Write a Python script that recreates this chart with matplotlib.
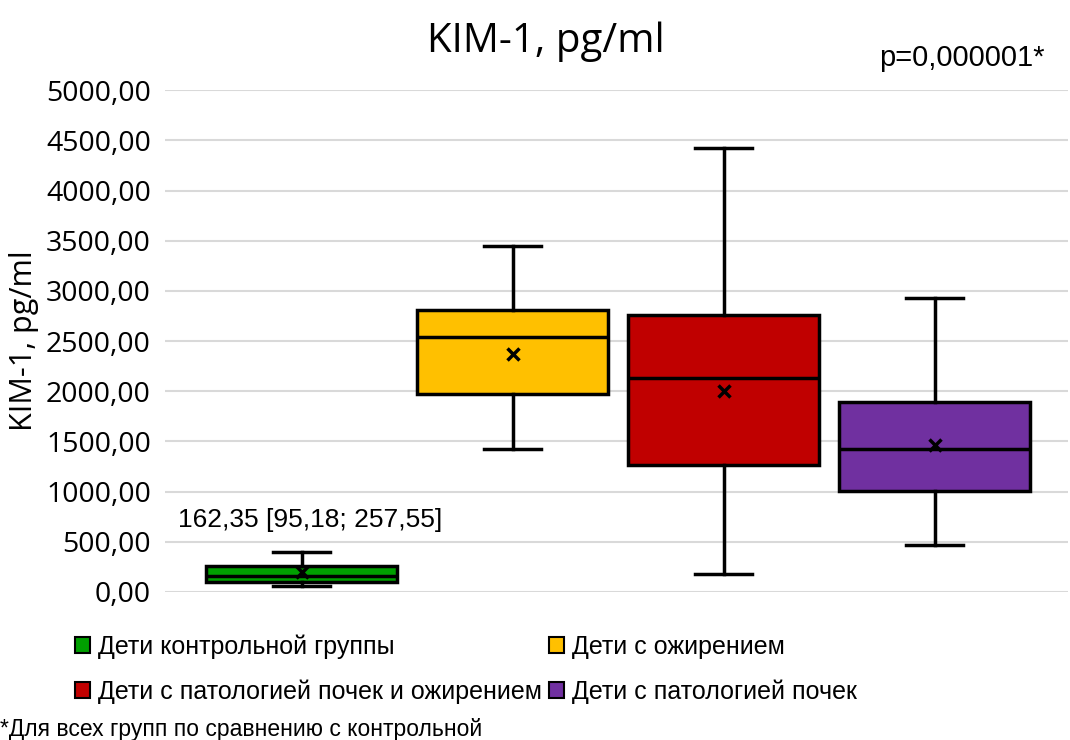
import matplotlib
matplotlib.use("Agg")
import matplotlib.pyplot as plt
from matplotlib.patches import Patch

# данные
groups = ["Дети контрольной группы", "Дети с ожирением",
          "Дети с патологией почек и ожирением", "Дети с патологией почек"]
colors = ["#00A000", "#FFC000", "#C00000", "#7030A0"]
whis_lo = [60, 1424, 179, 468]
q1 = [95.18, 1972, 1265, 1006]
med = [162.35, 2540, 2131, 1424]
q3 = [257.55, 2809, 2759, 1892]
whis_hi = [400, 3446, 4422, 2928]
means = [200, 2370, 2002, 1464]
yticks = [0, 500, 1000, 1500, 2000, 2500, 3000, 3500, 4000, 4500, 5000]

fig = plt.figure(figsize=(10.7, 7.4), dpi=100)
ax = fig.add_axes([0.154, 0.2, 0.844, 0.678])

stats = []
for i in range(len(groups)):
    stats.append(dict(whislo=whis_lo[i], q1=q1[i], med=med[i], q3=q3[i],
                      whishi=whis_hi[i], mean=means[i], fliers=[]))

bp = ax.bxp(stats, positions=[1, 2, 3, 4], widths=0.905, patch_artist=True,
            showmeans=True, capwidths=0.27,
            boxprops=dict(linewidth=2.5, edgecolor="black"),
            medianprops=dict(color="black", linewidth=2.5),
            whiskerprops=dict(color="black", linewidth=2.5),
            capprops=dict(color="black", linewidth=2.5),
            meanprops=dict(marker="x", markeredgecolor="black", markersize=9,
                           markeredgewidth=2.5))
for box, c in zip(bp["boxes"], colors):
    box.set_facecolor(c)

ax.set_xlim(0.351, 4.631)
ax.set_ylim(0, 5000)
ax.set_yticks(yticks)
ax.set_yticklabels([f"{v:.2f}".replace(".", ",") for v in yticks],
                   fontfamily="Open Sans", fontsize=20.5)
ax.set_xticks([])
ax.tick_params(axis="y", length=0, pad=10)
for s in ax.spines.values():
    s.set_visible(False)
ax.grid(axis="y", color="#d9d9d9", linewidth=1.5)
ax.set_axisbelow(True)
ax.set_ylabel("KIM-1, pg/ml", fontfamily="Open Sans", fontsize=22, labelpad=5)

fig.text(0.51, 0.943, "KIM-1, pg/ml", ha="center", va="center",
         fontfamily="Open Sans", fontsize=29)
fig.text(0.822, 0.921, "p=0,000001*", ha="left", va="center",
         fontfamily="Liberation Sans", fontsize=21)
ax.text(1.04, 717, "162,35 [95,18; 257,55]", ha="center", va="center",
        fontfamily="Liberation Sans", fontsize=19)

# порядок для заполнения по столбцам: строка 1 - зелёный, жёлтый; строка 2 - красный, фиолетовый
order = [0, 2, 1, 3]
handles = [Patch(facecolor=colors[i], edgecolor="black", linewidth=1.5) for i in order]
labels = [groups[i] for i in order]
fig.legend(handles, labels, loc="upper left", bbox_to_anchor=(0.061, 0.156),
           ncol=2, frameon=False, prop=dict(family="Liberation Sans", size=18),
           handlelength=0.6, handleheight=0.6, handletextpad=0.3,
           columnspacing=0.3, labelspacing=0.8, borderaxespad=0)

fig.text(0.0, 0.014, "*Для всех групп по сравнению с контрольной", ha="left",
         va="center", fontfamily="Liberation Sans", fontsize=16.5)

fig.savefig("out.png", dpi=100)
